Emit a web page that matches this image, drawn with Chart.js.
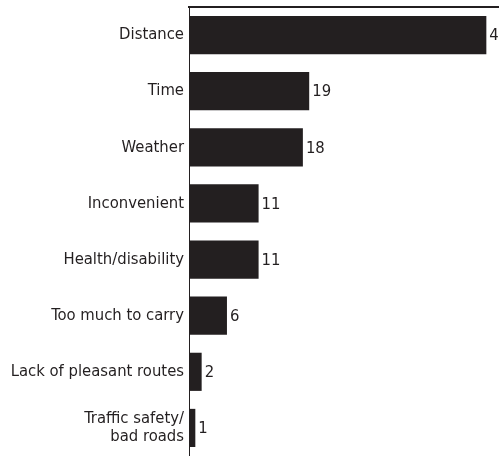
<!doctype html>
<html lang="en">
<head>
<meta charset="UTF-8">
<title>Reasons for not walking or cycling</title>
<script src="https://cdn.jsdelivr.net/npm/chart.js"></script>
<style>
    html, body { margin: 0; padding: 0; background: #fff; }
    .chart-container { width: 499px; height: 456px; position: relative; }
</style>
</head>
<body>
<div class="chart-container">
    <canvas id="reasonsChart"></canvas>
</div>
<script>
const categories = [
    'Distance',
    'Time',
    'Weather',
    'Inconvenient',
    'Health/disability',
    'Too much to carry',
    'Lack of pleasant routes',
    ['Traffic safety/', 'bad roads']
];
const values = [47, 19, 18, 11, 11, 6, 2, 1];
const axisMax = 49;

const ink = '#231f20';
const labelFont = { family: "'Liberation Sans Narrow', 'DejaVu Sans Condensed', sans-serif", size: 16.5, lineHeight: 1.1 };

// value labels just past the end of each bar
const valueLabels = {
    id: 'valueLabels',
    afterDatasetsDraw(chart) {
        const ctx = chart.ctx;
        const meta = chart.getDatasetMeta(0);
        ctx.save();
        ctx.font = `${labelFont.size}px ${labelFont.family}`;
        ctx.fillStyle = ink;
        ctx.textAlign = 'left';
        ctx.textBaseline = 'middle';
        meta.data.forEach((bar, i) => {
            ctx.fillText(String(values[i]), bar.x + 3, bar.y + 1);
        });
        ctx.restore();
    }
};

new Chart(document.getElementById('reasonsChart'), {
    type: 'bar',
    data: {
        labels: categories,
        datasets: [{
            data: values,
            backgroundColor: ink,
            borderWidth: 0,
            categoryPercentage: 1,
            barPercentage: 0.68
        }]
    },
    options: {
        indexAxis: 'y',
        responsive: true,
        maintainAspectRatio: false,
        animation: false,
        layout: { padding: { top: 7, right: 0, bottom: 0, left: 0 } },
        scales: {
            x: {
                position: 'top',
                min: 0,
                max: axisMax,
                ticks: { display: false },
                grid: { display: false, drawTicks: false },
                border: { display: true, color: ink, width: 2 },
                afterFit(scale) {
                    scale.height = 0;
                    scale.paddingLeft = 0;
                    scale.paddingRight = 0;
                }
            },
            y: {
                ticks: { color: ink, font: labelFont, padding: 5 },
                grid: { display: false, drawTicks: false },
                border: { display: true, color: ink, width: 1 },
                afterFit(scale) {
                    scale.width = 189;
                    scale.paddingTop = 0;
                    scale.paddingBottom = 0;
                }
            }
        },
        plugins: {
            legend: { display: false },
            tooltip: { enabled: false }
        }
    },
    plugins: [valueLabels]
});
</script>
</body>
</html>
